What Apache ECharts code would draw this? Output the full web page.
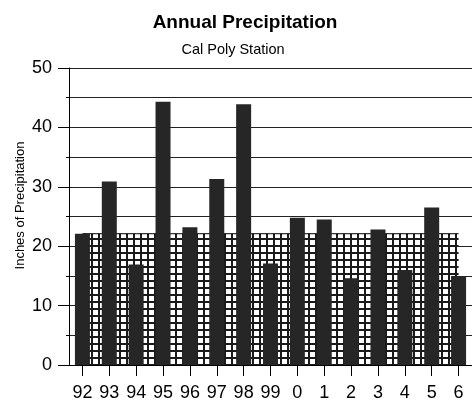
<!DOCTYPE html>
<html>
<head>
<meta charset="utf-8">
<script src="https://cdn.jsdelivr.net/npm/echarts@6/dist/echarts.min.js"></script>
<style>
html,body{margin:0;padding:0;background:#fff;}
#chart{width:472px;height:402px;}
</style>
</head>
<body>
<div id="chart"></div>
<script>
// Data
var years = ['92','93','94','95','96','97','98','99','0','1','2','3','4','5','6'];
var annualPrecip = [22.1, 30.9, 16.9, 44.3, 23.2, 31.3, 43.9, 17.1, 24.8, 24.5, 14.6, 22.8, 16.0, 26.5, 15.0];
var meanPrecip = [22.1, 22.1, 22.1, 22.1, 22.1, 22.1, 22.1, 22.1, 22.1, 22.1, 22.1, 22.1, 22.1, 22.1, 22.1];
var yTicks = [0, 10, 20, 30, 40, 50];

// checkered pattern
var pat = document.createElement('canvas');
pat.width = 7; pat.height = 7;
var ctx = pat.getContext('2d');
ctx.fillStyle = '#1a1a1a';
ctx.fillRect(0, 0, 7, 7);
ctx.fillStyle = '#fff';
ctx.fillRect(2, 2, 5, 5);

var chart = echarts.init(document.getElementById('chart'));
var font = 'Liberation Sans, Arial, sans-serif';
chart.setOption({
  animation: false,
  backgroundColor: '#fff',
  title: [{
    text: 'Annual Precipitation',
    left: 240, top: 8, textAlign: 'center',
    textStyle: {fontFamily: font, fontSize: 19, fontWeight: 'bold', color: '#000'}
  }, {
    text: 'Cal Poly Station',
    left: 228, top: 37, textAlign: 'center',
    textStyle: {fontFamily: font, fontSize: 14.5, fontWeight: 'normal', color: '#000'}
  }],
  grid: {left: 69, top: 68, width: 408, bottom: 37, containLabel: false},
  xAxis: {
    type: 'category',
    data: years,
    boundaryGap: true,
    axisLine: {show: true, lineStyle: {color: '#000', width: 1}},
    axisTick: {show: true, alignWithLabel: true, length: 11, lineStyle: {color: '#000'}},
    axisLabel: {margin: 19, fontFamily: font, fontSize: 18, color: '#000', interval: 0},
    splitLine: {show: false}
  },
  yAxis: {
    type: 'value',
    min: yTicks[0], max: yTicks[yTicks.length - 1], interval: 10,
    name: 'Inches of Precipitation',
    nameLocation: 'middle',
    nameGap: 42,
    nameMoveOverlap: false,
    nameTextStyle: {fontFamily: font, fontSize: 13, color: '#000', padding: [0, 0, 0, 22]},
    axisLine: {show: true, lineStyle: {color: '#000', width: 1}},
    axisTick: {show: true, length: 11, lineStyle: {color: '#000'}},
    minorTick: {show: true, splitNumber: 2, length: 3, lineStyle: {color: '#000'}},
    axisLabel: {margin: 17, fontFamily: font, fontSize: 18, color: '#000'},
    splitLine: {show: true, lineStyle: {color: '#222', width: 1}},
    minorSplitLine: {show: true, lineStyle: {color: '#222', width: 1}}
  },
  series: [{
    type: 'line',
    data: meanPrecip,
    symbol: 'none',
    z: 1,
    lineStyle: {color: '#000', width: 1},
    areaStyle: {color: {image: pat, repeat: 'repeat'}, opacity: 1}
  }, {
    type: 'bar',
    data: annualPrecip,
    barWidth: 15,
    z: 3,
    itemStyle: {color: '#262626'}
  }]
});
</script>
</body>
</html>
